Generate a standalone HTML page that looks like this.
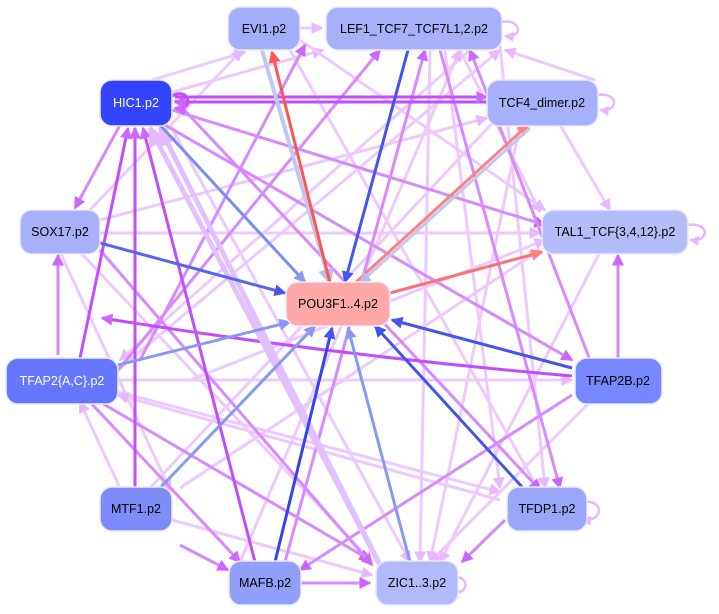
<!DOCTYPE html>
<html><head><meta charset="utf-8"><style>
html,body{margin:0;padding:0;background:#fff;}
svg{display:block;}
text{font-family:"Liberation Sans",sans-serif;font-size:12.5px;text-anchor:middle;dominant-baseline:central;}
</style></head><body>
<svg width="719" height="614" viewBox="0 0 719 614" xmlns="http://www.w3.org/2000/svg">
<defs>
<marker id="a1" markerWidth="4" markerHeight="4" refX="3.5" refY="2" orient="auto" markerUnits="strokeWidth"><path d="M0,0L4,2L0,4z" fill="#cc66ff"/></marker>
<marker id="a2" markerWidth="4" markerHeight="4" refX="3.5" refY="2" orient="auto" markerUnits="strokeWidth"><path d="M0,0L4,2L0,4z" fill="#e6b8ff"/></marker>
<marker id="a3" markerWidth="4" markerHeight="4" refX="3.5" refY="2" orient="auto" markerUnits="strokeWidth"><path d="M0,0L4,2L0,4z" fill="#4455ee"/></marker>
<marker id="a4" markerWidth="4" markerHeight="4" refX="3.5" refY="2" orient="auto" markerUnits="strokeWidth"><path d="M0,0L4,2L0,4z" fill="#ff5555"/></marker>
<marker id="a5" markerWidth="4" markerHeight="4" refX="3.5" refY="2" orient="auto" markerUnits="strokeWidth"><path d="M0,0L4,2L0,4z" fill="#8899f0"/></marker>
<marker id="a6" markerWidth="4" markerHeight="4" refX="3.5" refY="2" orient="auto" markerUnits="strokeWidth"><path d="M0,0L4,2L0,4z" fill="#ff8080"/></marker>
<marker id="a7" markerWidth="4" markerHeight="4" refX="3.5" refY="2" orient="auto" markerUnits="strokeWidth"><path d="M0,0L4,2L0,4z" fill="#bbbbee"/></marker>
</defs>
<g fill="none" stroke-width="3">
<g stroke="#eccaff" marker-end="url(#a2)">
<line x1="300" y1="28" x2="322" y2="28"/>
<line x1="172" y1="92" x2="323" y2="50"/>
<line x1="152" y1="80" x2="245" y2="52"/>
<line x1="90" y1="210" x2="242" y2="50"/>
<line x1="100" y1="220" x2="487" y2="118"/>
<line x1="100" y1="233" x2="540" y2="233"/>
<line x1="80" y1="252" x2="372" y2="562"/>
<line x1="60" y1="252" x2="170" y2="490"/>
<line x1="118" y1="380" x2="572" y2="380"/>
<line x1="118" y1="392" x2="500" y2="492"/>
<line x1="500" y1="500" x2="118" y2="395"/>
<line x1="120" y1="488" x2="80" y2="402"/>
<line x1="172" y1="520" x2="372" y2="575"/>
<line x1="150" y1="488" x2="500" y2="115"/>
<line x1="180" y1="488" x2="540" y2="250"/>
<line x1="290" y1="50" x2="540" y2="492"/>
<line x1="445" y1="50" x2="500" y2="488"/>
<line x1="430" y1="50" x2="420" y2="562"/>
<line x1="460" y1="50" x2="540" y2="212"/>
<line x1="500" y1="45" x2="545" y2="488"/>
<line x1="470" y1="50" x2="120" y2="360"/>
<line x1="560" y1="125" x2="610" y2="210"/>
<line x1="520" y1="125" x2="430" y2="562"/>
<line x1="590" y1="402" x2="430" y2="562"/>
<line x1="600" y1="252" x2="440" y2="562"/>
<line x1="170" y1="125" x2="410" y2="562"/>
<line x1="240" y1="562" x2="460" y2="50"/>
<line x1="595" y1="80" x2="505" y2="50"/>
<line x1="300" y1="40" x2="545" y2="210"/>
<line x1="190" y1="380" x2="545" y2="240"/>
<line x1="118" y1="370" x2="500" y2="50"/>
</g>
<g stroke="#d78aff" marker-end="url(#a1)">
<line x1="172" y1="110" x2="545" y2="225"/>
<line x1="165" y1="125" x2="572" y2="360"/>
<line x1="175" y1="100" x2="540" y2="490"/>
<line x1="120" y1="125" x2="75" y2="208"/>
<line x1="110" y1="380" x2="380" y2="50"/>
<line x1="100" y1="402" x2="370" y2="560"/>
<line x1="90" y1="402" x2="240" y2="562"/>
<line x1="572" y1="395" x2="300" y2="570"/>
<line x1="505" y1="520" x2="462" y2="562"/>
<line x1="300" y1="583" x2="370" y2="583"/>
<line x1="180" y1="545" x2="228" y2="570"/>
<line x1="140" y1="360" x2="305" y2="45"/>
<line x1="440" y1="50" x2="560" y2="488"/>
<line x1="590" y1="360" x2="470" y2="50"/>
<line x1="285" y1="562" x2="425" y2="50"/>
<line x1="58" y1="355" x2="58" y2="255"/>
<line x1="618" y1="358" x2="618" y2="255"/>
<line x1="100" y1="250" x2="372" y2="565"/>
</g>
<g stroke="#c04dff" marker-end="url(#a1)">
<line x1="487" y1="102" x2="175" y2="102"/>
<line x1="175" y1="97" x2="487" y2="97"/>
<line x1="135" y1="488" x2="135" y2="128"/>
<line x1="80" y1="358" x2="128" y2="128"/>
<line x1="255" y1="562" x2="143" y2="128"/>
<path d="M572,376 Q330,355 102,318" />
</g>
<g stroke="#e2c0ff" stroke-width="5" marker-end="url(#a2)">
<line x1="380" y1="565" x2="150" y2="128"/>
<line x1="380" y1="565" x2="160" y2="128"/>
</g>
<g stroke="#e6b8ff" stroke-width="2.5">
<path d="M502,22 C520,18 525,38 505,36" marker-end="url(#a2)"/>
<path d="M598,95 C618,92 620,112 600,110" marker-end="url(#a2)"/>
<path d="M688,225 C710,222 710,242 690,240" marker-end="url(#a2)"/>
<path d="M580,502 C605,498 605,522 582,520" marker-end="url(#a2)"/>
<path d="M448,577 C470,573 472,595 450,593" marker-end="url(#a2)"/>
</g>
<path d="M172,96 C190,86 195,112 175,108" stroke="#c04dff" stroke-width="3" marker-end="url(#a1)"/>
<line x1="262" y1="50" x2="330" y2="283" stroke="#c0c8f0" stroke-width="4" marker-end="url(#a7)"/>
<line x1="330" y1="283" x2="272" y2="52" stroke="#ff5555" marker-end="url(#a4)"/>
<line x1="408" y1="50" x2="345" y2="282" stroke="#4455ee" marker-end="url(#a3)"/>
<line x1="355" y1="283" x2="528" y2="125" stroke="#ff8080" marker-end="url(#a6)"/>
<line x1="530" y1="128" x2="360" y2="283" stroke="#c0c8f0" marker-end="url(#a7)"/>
<line x1="390" y1="293" x2="542" y2="252" stroke="#ff7070" marker-end="url(#a6)"/>
<line x1="160" y1="125" x2="305" y2="282" stroke="#7a8ef0" marker-end="url(#a5)"/>
<line x1="100" y1="243" x2="285" y2="293" stroke="#5566ee" marker-end="url(#a3)"/>
<line x1="118" y1="365" x2="290" y2="322" stroke="#8899f0" marker-end="url(#a5)"/>
<line x1="572" y1="368" x2="392" y2="320" stroke="#4455ee" marker-end="url(#a3)"/>
<line x1="523" y1="488" x2="375" y2="326" stroke="#4455ee" marker-end="url(#a3)"/>
<line x1="275" y1="562" x2="332" y2="328" stroke="#3344ee" marker-end="url(#a3)"/>
<line x1="410" y1="562" x2="348" y2="328" stroke="#8899f0" marker-end="url(#a5)"/>
<line x1="160" y1="488" x2="315" y2="326" stroke="#8899f0" marker-end="url(#a5)"/>
</g>
<g stroke="#e8e8ff" stroke-width="1.5">
<rect x="228" y="7" width="72" height="43" rx="12" fill="#a3aef8"/>
<rect x="326" y="7" width="176" height="43" rx="12" fill="#a7b0f8"/>
<rect x="100" y="80" width="72" height="46" rx="12" fill="#3344ff"/>
<rect x="487" y="80" width="111" height="46" rx="12" fill="#a7b0fb"/>
<rect x="20" y="210" width="80" height="44" rx="12" fill="#a7b0f8"/>
<rect x="542" y="210" width="146" height="44" rx="12" fill="#b5bcfa"/>
<rect x="286" y="282" width="104" height="44" rx="12" fill="#ffa8a8"/>
<rect x="6" y="358" width="112" height="46" rx="12" fill="#6677ff"/>
<rect x="575" y="358" width="87" height="46" rx="12" fill="#7787ff"/>
<rect x="100" y="487" width="72" height="44" rx="12" fill="#7e8cfa"/>
<rect x="507" y="487" width="80" height="44" rx="12" fill="#9aa6f8"/>
<rect x="229" y="561" width="72" height="44" rx="12" fill="#919ffb"/>
<rect x="376" y="561" width="82" height="44" rx="12" fill="#b3bafb"/>
</g>
<text x="264" y="29">EVI1.p2</text>
<text x="414" y="29">LEF1_TCF7_TCF7L1,2.p2</text>
<text x="136" y="103" fill="#fff">HIC1.p2</text>
<text x="542" y="103">TCF4_dimer.p2</text>
<text x="60" y="232">SOX17.p2</text>
<text x="615" y="232">TAL1_TCF{3,4,12}.p2</text>
<text x="338" y="304">POU3F1..4.p2</text>
<text x="62" y="381" fill="#fff">TFAP2{A,C}.p2</text>
<text x="618" y="381">TFAP2B.p2</text>
<text x="136" y="509">MTF1.p2</text>
<text x="547" y="509">TFDP1.p2</text>
<text x="265" y="583">MAFB.p2</text>
<text x="417" y="583">ZIC1..3.p2</text>
</svg>
</body></html>
